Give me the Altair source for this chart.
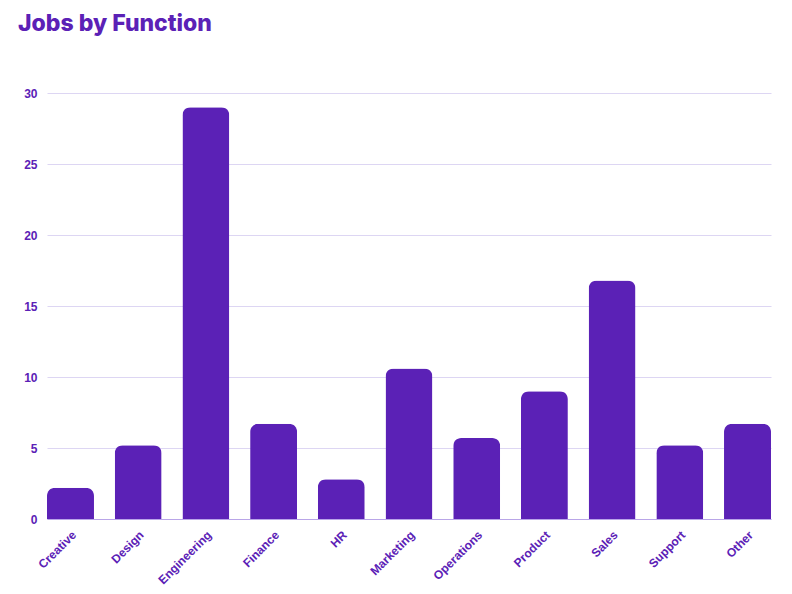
import altair as alt
import pandas as pd

categories = ["Creative", "Design", "Engineering", "Finance", "HR", "Marketing",
              "Operations", "Product", "Sales", "Support", "Other"]
values = [2.2, 5.2, 29.0, 6.7, 2.8, 10.6, 5.7, 9.0, 16.8, 5.2, 6.7]

df = pd.DataFrame({"Function": categories, "Jobs": values})

PURPLE = "#5b21b6"

chart = alt.Chart(df).mark_bar(
    color=PURPLE, cornerRadiusTopLeft=8, cornerRadiusTopRight=8
).encode(
    x=alt.X("Function:N", sort=categories, title=None,
            scale=alt.Scale(paddingInner=0.306, paddingOuter=0),
            axis=alt.Axis(labelAngle=-45, labelColor=PURPLE, labelFont="Liberation Sans",
                          labelFontWeight="bold", labelFontSize=12, ticks=False,
                          domainColor="#b9a5e8", labelPadding=10)),
    y=alt.Y("Jobs:Q", title=None,
            scale=alt.Scale(domain=[0, 30], nice=False),
            axis=alt.Axis(values=[0, 5, 10, 15, 20, 25, 30], labelColor=PURPLE,
                          labelFont="Liberation Sans", labelFontWeight="bold",
                          labelFontSize=12, ticks=False, domain=False,
                          gridColor="#ddd6f3", labelPadding=10)),
).properties(
    width=724, height=426,
    title=alt.Title("Jobs by Function", anchor="start", frame="group",
                    font="Inter", fontSize=23, fontWeight=800, color=PURPLE,
                    dx=-29, offset=51),
    autosize=alt.AutoSizeParams(type="none"),
    padding={"left": 47, "top": 93, "right": 21, "bottom": 75},
).configure_view(stroke=None)

chart.save("out.html", embed_options={"renderer": "svg", "actions": False})
